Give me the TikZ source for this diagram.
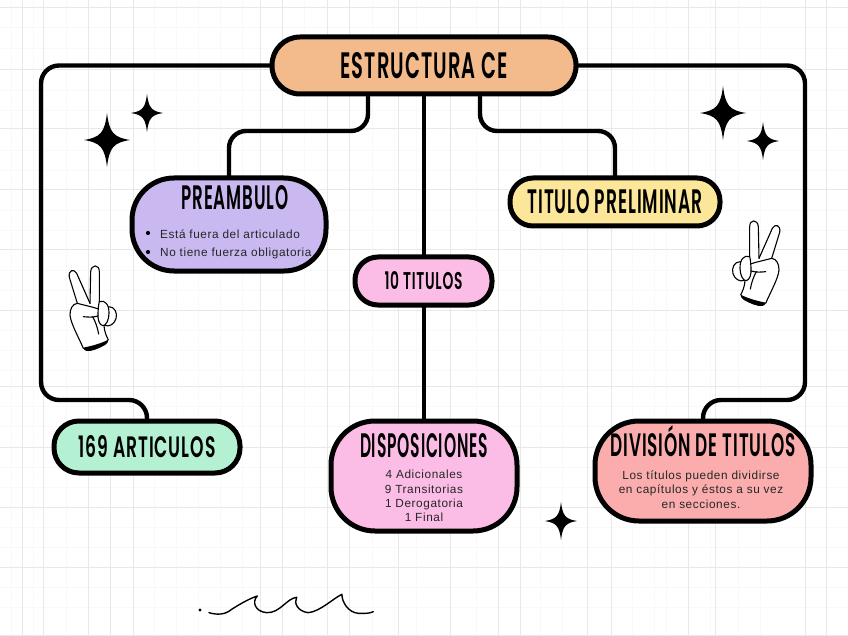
\documentclass[tikz,border=0pt]{standalone}
\usepackage{fontspec}
\usepackage{graphicx}
\setmainfont{Liberation Sans}
\newfontfamily\headfont[FakeStretch=0.56,LetterSpace=3]{Poppins SemiBold}
\newfontfamily\bodyfont[LetterSpace=5]{Liberation Sans}
\definecolor{boxorange}{HTML}{F3BB8C}
\definecolor{boxpurple}{HTML}{C9B9F0}
\definecolor{boxyellow}{HTML}{FBE69A}
\definecolor{boxpink}{HTML}{FBBDE6}
\definecolor{boxmint}{HTML}{B4F0D2}
\definecolor{boxsalmon}{HTML}{FBADAD}
\newcommand{\headtxt}[3]{\resizebox{#1pt}{#2pt}{\headfont #3}}
\newcommand{\sparkle}[4]{% x y rx ry
  \fill[black] (#1,#2-#4) .. controls (#1+0.10*#3,#2-0.28*#4) and (#1+0.28*#3,#2-0.10*#4) .. (#1+#3,#2)
   .. controls (#1+0.28*#3,#2+0.10*#4) and (#1+0.10*#3,#2+0.28*#4) .. (#1,#2+#4)
   .. controls (#1-0.10*#3,#2+0.28*#4) and (#1-0.28*#3,#2+0.10*#4) .. (#1-#3,#2)
   .. controls (#1-0.28*#3,#2-0.10*#4) and (#1-0.10*#3,#2-0.28*#4) .. cycle;}
\newcommand{\handshape}{%
  \fill[white] (70,265) .. controls (55,230) and (32,190) .. (30,165) .. controls (30,145) and (38,132) .. (52,130)
    -- (28,52) .. controls (24,30) and (42,25) .. (50,40) -- (90,130)
    -- (92,35) .. controls (94,12) and (118,12) .. (118,35) -- (118,125)
    .. controls (135,120) and (145,130) .. (148,140) .. controls (165,142) and (172,160) .. (168,175)
    .. controls (165,190) and (150,200) .. (132,197) .. controls (133,215) and (140,230) .. (145,240) -- cycle;
  \draw[handline] (70,265) .. controls (55,230) and (32,190) .. (30,165) .. controls (30,145) and (38,132) .. (52,130)
    -- (28,52) .. controls (24,30) and (42,25) .. (50,40) -- (90,130);
  \draw[handline] (90,130) -- (92,35) .. controls (94,12) and (118,12) .. (118,35) -- (118,125);
  % first curled finger
  \draw[handline] (118,125) .. controls (135,118) and (148,135) .. (147,160) .. controls (147,180) and (138,198) .. (128,197) .. controls (118,195) and (112,178) .. (114,158) .. controls (115,142) and (116,132) .. (118,125);
  % second curled finger
  \draw[handline] (146,140) .. controls (165,140) and (173,160) .. (168,176) .. controls (163,192) and (148,202) .. (134,196);
  % thumb
  \draw[handline] (52,130) .. controls (70,135) and (95,140) .. (116,147);
  \draw[handline] (70,170) .. controls (85,172) and (100,172) .. (114,168);
  \draw[handline] (98,170) .. controls (106,185) and (112,200) .. (116,222);
  \draw[handline] (132,197) .. controls (133,215) and (140,230) .. (145,240);
  \fill[black] (70,263) .. controls (95,258) and (125,250) .. (145,239) .. controls (146,246) and (142,250) .. (135,255) .. controls (118,265) and (95,275) .. (80,273) .. controls (74,272) and (71,268) .. cycle;}
\tikzset{
  x=1pt,y=-1pt,
  box/.style={draw=black,line width=5pt,inner sep=0pt,outer sep=0pt,text=black},
  link/.style={draw=black,line width=4.4pt,line join=round},
  gridmajor/.style={draw=black!9,line width=0.8pt},
  gridminor/.style={draw=black!2.5,line width=0.5pt},
  handline/.style={draw=black,line width=1.1pt,line cap=round,line join=round},
  body/.style={font=\bodyfont\fontsize{11.8}{14}\selectfont,text=black!85,inner sep=0pt,align=center},
  headlabel/.style={inner sep=0pt,text=black},
}
\begin{document}
\begin{tikzpicture}
\useasboundingbox (0,0) rectangle (848,636);
\fill[white] (0,0) rectangle (848,636);
% faint grid
\foreach \x in {11,33,66,154,176,198,220,242,304,372,394,416,476,540,562,632,654,666,710,738,760,848}
  \draw[gridminor] (\x,0) -- (\x,636);
\foreach \y in {27,48,90,110,150,170,210,230,270,290,330,350,370,406,426,467,487,527,547,587,607}
  \draw[gridminor] (0,\y) -- (848,\y);
\foreach \x in {22,43,88,110,133,260,282,327,349,398,450,498,520,587,611,688,715,805,826}
  \draw[gridmajor] (\x,0) -- (\x,636);
\foreach \y in {7,69,128,189,249,310,386,447,507,567,635}
  \draw[gridmajor] (0,\y) -- (848,\y);

% boxes
\node[box,fill=boxorange,rounded corners=28pt,minimum width=304pt,minimum height=57pt] (top) at (424,65.5) {\headtxt{167}{26}{ESTRUCTURA CE}};
\node[box,fill=boxpurple,rounded corners=42pt,minimum width=194pt,minimum height=93pt] (pre) at (229,224.5) {};
\node[box,fill=boxyellow,rounded corners=23pt,minimum width=210pt,minimum height=48pt] (tit) at (615,202) {\headtxt{175}{24}{TITULO PRELIMINAR}};
\node[box,fill=boxpink,rounded corners=23pt,minimum width=137pt,minimum height=48pt] (diez) at (423.5,281) {\headtxt{78}{18}{10 TITULOS}};
\node[box,fill=boxmint,rounded corners=25pt,minimum width=186pt,minimum height=52pt] (art) at (147,447) {\headtxt{137}{22}{169 ARTICULOS}};
\node[box,fill=boxpink,rounded corners=44pt,minimum width=186pt,minimum height=110pt] (dis) at (424,476) {};
\node[box,fill=boxsalmon,rounded corners=44pt,minimum width=216pt,minimum height=100pt] (div) at (703,471) {};

% box texts
\node[headlabel] (preh) at (235,198) {\headtxt{107}{24}{PREAMBULO}};
\node[body,anchor=west] (pre1) at (160,234) {Está fuera del articulado};
\node[body,anchor=west] (pre2) at (160,253) {No tiene fuerza obligatoria};
\fill[black] (148,233) circle (2.1pt) (148,252) circle (2.1pt);
\node[headlabel] (dish) at (424,446) {\headtxt{128}{24}{DISPOSICIONES}};
\node[body,font=\bodyfont\fontsize{11.8}{14.3}\selectfont] (disb) at (424,496) {4 Adicionales\\9 Transitorias\\1 Derogatoria\\1 Final};
\node[headlabel,anchor=base] (divh) at (703,456) {\headtxt{185}{31}{DIVISIÓN DE TITULOS}};
\node[body,font=\bodyfont\fontsize{11.8}{14.3}\selectfont] (divb) at (701,489.5) {Los títulos pueden dividirse\\en capítulos y éstos a su vez\\en secciones.};

% connectors
\draw[link,rounded corners=18pt] (top.west) -| (41,400) -- (art.north |- 41,400) -- (art.north);
\draw[link,rounded corners=18pt] (top.east) -| (805,400) -- (div.north |- 805,400) -- (div.north);
\draw[link,rounded corners=17pt] ([xshift=-56pt]top.south) |- (pre.north |- 0,131) -- (pre.north);
\draw[link,rounded corners=17pt] ([xshift=56pt]top.south) |- (tit.north |- 0,131) -- (tit.north);
\draw[link] (top.south) -- (top.south |- diez.north);
\draw[link] (top.south |- diez.south) -- (top.south |- dis.north);

% sparkles
\sparkle{107}{140}{23}{27}
\sparkle{147}{113}{16}{19}
\sparkle{723}{113}{23}{27}
\sparkle{763}{141}{16}{19}
\sparkle{561}{521}{16}{19}

% hands
\begin{scope}[shift={(60,260)},x=0.3333pt,y=-0.3333pt]
\handshape
\end{scope}
\begin{scope}[shift={(789,215)},x=-0.3333pt,y=-0.3333pt]
\handshape
\end{scope}

% squiggle
\begin{scope}[shift={(0,500)},x=0.3333pt,y=-0.3333pt]
\fill[black] (600,330) circle (5);
\draw[black,line width=1.4pt,line cap=round,line join=round] (627,338) .. controls (650,345) and (675,345) .. (695,328) .. controls (720,312) and (750,295) .. (772,288) .. controls (755,305) and (765,335) .. (800,338) .. controls (840,340) and (860,295) .. (890,292) .. controls (880,310) and (895,335) .. (925,338) .. controls (960,335) and (1000,295) .. (1026,283) .. controls (1025,305) and (1045,338) .. (1075,340) .. controls (1095,341) and (1110,340) .. (1120,335);
\end{scope}
\end{tikzpicture}
\end{document}
